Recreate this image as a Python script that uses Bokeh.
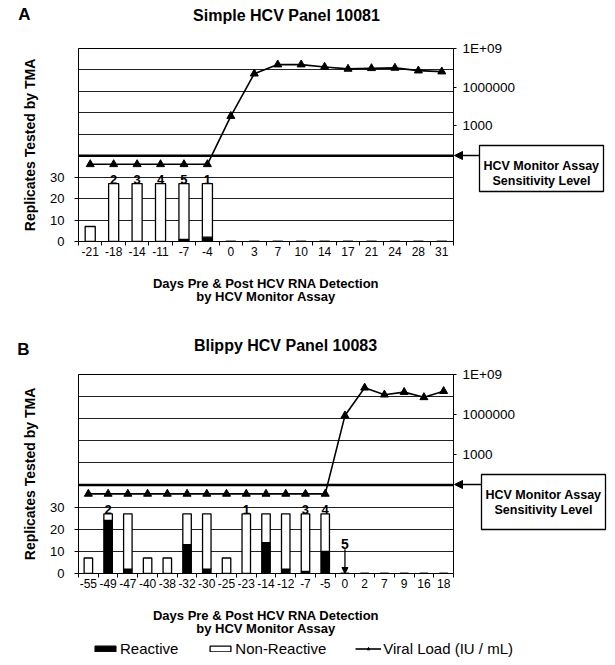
from bokeh.plotting import figure
from bokeh.models import (ColumnDataSource, Range1d, LogAxis, LogScale, FixedTicker,
                          Span, Label, LabelSet, Arrow, NormalHead, Legend, LegendItem,
                          BoxAnnotation)
from bokeh.layouts import column
from bokeh.core.properties import value
from bokeh.embed import file_html
from bokeh.resources import INLINE

FONT = "Liberation Sans"
NAN = float("nan")

# ---------------- data: panel A ----------------
days_a = [-21, -18, -14, -11, -7, -4, 0, 3, 7, 10, 14, 17, 21, 24, 28, 31]
reactive_a = [0, 0, 0, 0, 1, 2, 0, 0, 0, 0, 0, 0, 0, 0, 0, 0]
nonreactive_a = [7, 27, 27, 27, 26, 25, 0, 0, 0, 0, 0, 0, 0, 0, 0, 0]
viral_a = [1, 1, 1, 1, 1, 1, 5.6e3, 1.1e7, 5.6e7, 5.6e7, 3.7e7, 2.6e7, 2.9e7, 3.1e7, 1.9e7, 1.6e7]
label_days_a = [-18, -14, -11, -7, -4]
label_text_a = ["2", "3", "4", "5", "1"]

# ---------------- data: panel B ----------------
days_b = [-55, -49, -47, -40, -38, -32, -30, -25, -23, -14, -12, -7, -5, 0, 2, 7, 9, 16, 18]
reactive_b = [0, 24, 2, 0, 0, 13, 2, 0, 0, 14, 2, 1, 10, 0, 0, 0, 0, 0, 0]
nonreactive_b = [7, 3, 25, 7, 7, 14, 25, 7, 27, 13, 25, 26, 17, 0, 0, 0, 0, 0, 0]
viral_b = [1, 1, 1, 1, 1, 1, 1, 1, 1, 1, 1, 1, 1, 8e5, 1e8, 3e7, 4.7e7, 1.9e7, 5.5e7]
label_days_b = [-49, -23, -7, -5]
label_text_b = ["2", "1", "3", "4"]
arrow_day_b = 0
arrow_text_b = "5"
arrow_level_b = 11

series_names = ["Reactive", "Non-Reactive", "Viral Load (IU / mL)"]

# ---------------- axes ----------------
left_ticks = [0, 10, 20, 30]
grid_levels = [10, 20, 30, 40, 50, 60, 70, 80]
sensitivity_level = 40
replicate_max = 90
vl_min, vl_max = 1e-6, 1e9
vl_ticks = [1000, 1000000, 1000000000]
vl_tick_labels = ["1000", "1000000", "1E+09"]

PAGE_W, PAGE_H = 615, 665

BAR_STYLE = dict(fill_color=["black", "white"], line_color="black", line_width=1.3)
LINE_STYLE = dict(line_color="black", line_width=1.6)
MARK_STYLE = dict(marker="triangle", size=8, fill_color="black", line_color="black")


def make_panel(days, reactive, nonreactive, viral, lab_days, lab_text,
               frame_w, frame_h, left, top, bottom):
    n = len(days)
    idx = list(range(n))
    p = figure(frame_width=frame_w, frame_height=frame_h,
               x_range=Range1d(-0.5, n - 0.5), y_range=Range1d(0, replicate_max),
               output_backend="svg", toolbar_location=None,
               min_border_left=left, min_border_right=PAGE_W - left - frame_w,
               min_border_top=top, min_border_bottom=bottom,
               background_fill_color="white", border_fill_color="white")
    p.outline_line_color = "black"
    p.outline_line_width = 1
    p.xgrid.visible = False
    p.ygrid.ticker = FixedTicker(ticks=grid_levels)
    p.ygrid.grid_line_color = "#222222"
    p.ygrid.grid_line_width = 1

    xa = p.xaxis[0]
    xa.ticker = FixedTicker(ticks=idx, minor_ticks=[i - 0.5 for i in range(n + 1)])
    xa.major_label_overrides = {i: str(d) for i, d in enumerate(days)}
    xa.major_tick_out = 0
    xa.major_tick_in = 0
    xa.minor_tick_out = 4
    xa.minor_tick_in = 0
    xa.minor_tick_line_color = "black"
    xa.axis_line_color = "black"
    xa.major_label_standoff = 1
    xa.major_label_text_font = FONT
    xa.major_label_text_font_size = "12px"
    xa.major_label_text_color = "black"
    xa.axis_label = "Days Pre & Post HCV RNA Detection\nby HCV Monitor Assay"
    xa.axis_label_text_font = FONT
    xa.axis_label_text_font_style = "bold"
    xa.axis_label_text_font_size = "13px"
    xa.axis_label_text_color = "black"
    xa.axis_label_text_line_height = 0.9
    xa.axis_label_standoff = 17

    ya = p.yaxis[0]
    ya.ticker = FixedTicker(ticks=left_ticks)
    ya.minor_tick_line_color = None
    ya.major_tick_out = 4
    ya.major_tick_in = 0
    ya.major_label_standoff = 10
    ya.major_label_text_font = FONT
    ya.major_label_text_font_size = "13px"
    ya.major_label_text_color = "black"
    ya.axis_line_color = "black"
    ya.axis_label = "Replicates Tested by TMA"
    ya.axis_label_text_font = FONT
    ya.axis_label_text_font_style = "bold"
    ya.axis_label_text_font_size = "14px"
    ya.axis_label_text_color = "black"
    ya.axis_label_standoff = 9

    p.extra_y_ranges = {"vl": Range1d(vl_min, vl_max)}
    p.extra_y_scales = {"vl": LogScale()}
    ra = LogAxis(y_range_name="vl", ticker=FixedTicker(ticks=vl_ticks),
                 major_label_overrides=dict(zip(vl_ticks, vl_tick_labels)))
    ra.major_tick_out = 3
    ra.major_tick_in = 0
    ra.minor_tick_line_color = None
    ra.major_label_standoff = 6
    ra.major_label_text_font = FONT
    ra.major_label_text_font_size = "13.5px"
    ra.major_label_text_color = "black"
    ra.axis_line_color = "black"
    p.add_layout(ra, "right")

    p.add_layout(Span(location=sensitivity_level, dimension="width",
                      line_color="black", line_width=2.5))

    src = ColumnDataSource(dict(x=idx, reactive=reactive, nonreactive=nonreactive))
    p.vbar_stack(["reactive", "nonreactive"], x="x", width=0.43, source=src, **BAR_STYLE)

    p.line(idx, viral, y_range_name="vl", **LINE_STYLE)
    p.scatter(idx, viral, y_range_name="vl", **MARK_STYLE)

    lab_idx = [days.index(d) for d in lab_days]
    lab_y = [reactive[i] + nonreactive[i] for i in lab_idx]
    p.add_layout(LabelSet(x="x", y="y", text="t",
                          source=ColumnDataSource(dict(x=lab_idx, y=lab_y, t=lab_text)),
                          text_align="center", text_baseline="bottom", y_offset=0,
                          text_font=value(FONT), text_font_style="bold",
                          text_font_size="13px", text_color="black"))
    return p


pA = make_panel(days_a, reactive_a, nonreactive_a, viral_a, label_days_a, label_text_a,
                frame_w=375, frame_h=193, left=78, top=48, bottom=77)

pB = make_panel(days_b, reactive_b, nonreactive_b, viral_b, label_days_b, label_text_b,
                frame_w=375, frame_h=199, left=78, top=56, bottom=92)

# "5" with downward arrow in panel B
i0 = days_b.index(arrow_day_b)
pB.add_layout(Label(x=i0, y=arrow_level_b, text=arrow_text_b, text_align="center",
                    text_baseline="bottom", text_font=FONT, text_font_style="bold",
                    text_font_size="14px", text_color="black"))
pB.add_layout(Arrow(x_start=i0, y_start=arrow_level_b, x_end=i0, y_end=0,
                    line_width=1.3, line_color="black",
                    end=NormalHead(size=6, fill_color="black", line_color="black")))

# ---------------- overlay: titles, panel letters, sensitivity boxes, legend ----------------
ov = figure(width=PAGE_W, height=PAGE_H, x_range=Range1d(0, PAGE_W), y_range=Range1d(PAGE_H, 0),
            x_axis_type=None, y_axis_type=None, output_backend="svg", toolbar_location=None,
            min_border=0, background_fill_color=None, border_fill_color=None,
            outline_line_color=None,
            styles={"position": "absolute", "top": "0px", "left": "0px",
                    "z-index": "5", "pointer-events": "none"})
ov.xgrid.visible = False
ov.ygrid.visible = False

overlay_texts = [
    ("A", 24, 14, "17px"), ("Simple HCV Panel 10081", 286, 15, "16px"),
    ("B", 23, 349, "17px"), ("Blippy HCV Panel 10083", 285, 345, "16px"),
]
for t, x, y, fs in overlay_texts:
    ov.add_layout(Label(x=x, y=y, text=t, text_align="center", text_baseline="middle",
                        text_font=FONT, text_font_style="bold", text_font_size=fs,
                        text_color="black"))

# (box left, box right, box top, box bottom, sensitivity line y, frame right)
boxes = [(479, 603, 145, 191, 155, 453), (481, 605, 474, 529, 484, 453)]
for l, r, t, b, ys, fr in boxes:
    ov.add_layout(BoxAnnotation(left=l, right=r, top=t, bottom=b, fill_color="white",
                                fill_alpha=1, line_color="black", line_width=1.3,
                                line_alpha=1))
    cx = (l + r) / 2
    ov.add_layout(Label(x=cx, y=t + 20, text="HCV Monitor Assay", text_align="center",
                        text_baseline="middle", text_font=FONT, text_font_style="bold",
                        text_font_size="12.5px", text_color="black"))
    ov.add_layout(Label(x=cx, y=t + 35, text="Sensitivity Level", text_align="center",
                        text_baseline="middle", text_font=FONT, text_font_style="bold",
                        text_font_size="12.5px", text_color="black"))
    ov.add_layout(Arrow(x_start=l, y_start=ys, x_end=fr + 1, y_end=ys, line_width=1.5,
                        line_color="black",
                        end=NormalHead(size=8, fill_color="black", line_color="black")))

# legend keys share the series styles (one undrawn NaN row so the keys render)
key_src = ColumnDataSource(dict(x=[NAN], r=[NAN], n=[NAN], y=[NAN]))
keys = ov.vbar_stack(["r", "n"], x="x", width=1, source=key_src, **BAR_STYLE)
key_line = ov.line(x="x", y="y", source=key_src, **LINE_STYLE)
key_mark = ov.scatter(x="x", y="y", source=key_src, **MARK_STYLE)
legend = Legend(items=[LegendItem(label=series_names[0], renderers=[keys[0]]),
                       LegendItem(label=series_names[1], renderers=[keys[1]]),
                       LegendItem(label=series_names[2], renderers=[key_line, key_mark])],
                orientation="horizontal", location=(92, 8), spacing=29, padding=0,
                margin=0, border_line_color=None, background_fill_alpha=0,
                glyph_width=26, glyph_height=7, label_standoff=2, label_height=16,
                label_text_font=FONT, label_text_font_size="15px", label_text_color="black")
ov.add_layout(legend, "center")

layout = column(pA, pB, spacing=0)
open("out.html", "w").write(file_html([layout, ov], INLINE))
